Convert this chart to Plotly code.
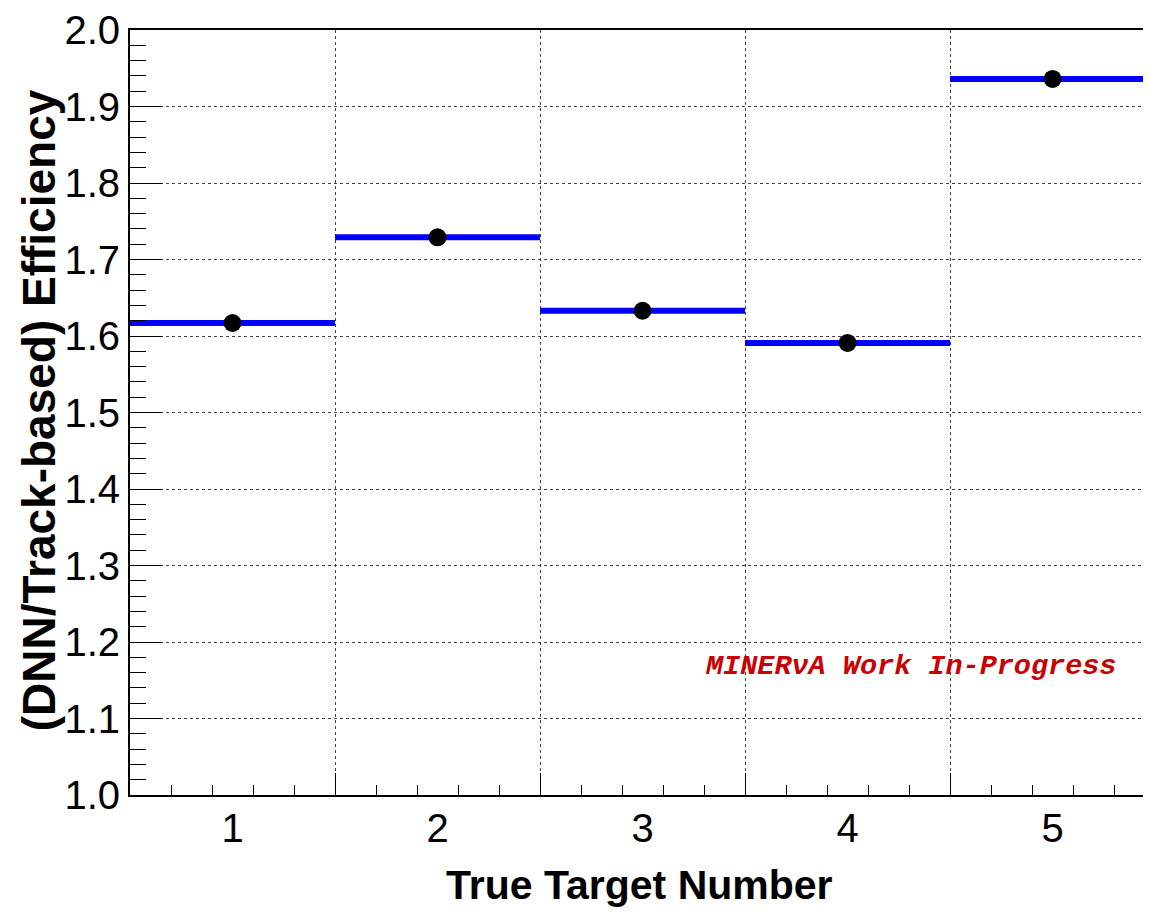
import plotly.graph_objects as go

# Data
targets = [1, 2, 3, 4, 5]
ratio = [1.617, 1.729, 1.633, 1.591, 1.936]
bin_half_width = 0.5
x_title = "True Target Number"
y_title = "(DNN/Track-based) Efficiency"
stamp = "MINERνA Work In-Progress"

# Horizontal bin lines built from data
step_x, step_y = [], []
for c, v in zip(targets, ratio):
    step_x += [c - bin_half_width, c + bin_half_width, None]
    step_y += [v, v, None]

fig = go.Figure()
fig.add_trace(go.Scatter(x=step_x, y=step_y, mode="lines",
                         line=dict(color="rgb(0,0,255)", width=6),
                         hoverinfo="skip", showlegend=False))
fig.add_trace(go.Scatter(x=targets, y=ratio, mode="markers", xaxis="x2",
                         marker=dict(color="black", size=18),
                         showlegend=False))

xr = [0.5, 5.48]
edges = [1.5, 2.5, 3.5, 4.5]
fig.update_layout(
    width=1143, height=909, autosize=False,
    margin=dict(l=122, r=0, t=19, b=122),
    plot_bgcolor="white", paper_bgcolor="white",
    font=dict(family="Liberation Sans, Arial, sans-serif", color="black"),
    xaxis=dict(range=xr, tickvals=edges, ticktext=[""] * len(edges),
               ticks="inside", ticklen=22, tickcolor="black", tickwidth=1,
               showgrid=True, gridcolor="#444", griddash="dot", gridwidth=1,
               showline=True, linecolor="black", linewidth=2, mirror=True,
               zeroline=False,
               minor=dict(ticks="inside", ticklen=10, tick0=0.5, dtick=0.2,
                          tickcolor="black", showgrid=False)),
    xaxis2=dict(range=xr, overlaying="x", anchor="y", side="bottom",
                tickvals=targets, ticktext=[str(t) for t in targets],
                ticks="", showline=False, showgrid=False, zeroline=False,
                tickfont=dict(size=40, family="Liberation Sans, Arial"),
                ticklabelstandoff=6, ticklabeloverflow="allow"),
    yaxis=dict(range=[1.0, 2.0], dtick=0.1, tick0=1.0, tickformat=".1f",
               ticks="inside", ticklen=32, tickcolor="black", tickwidth=1,
               showgrid=True, gridcolor="#444", griddash="dot", gridwidth=1,
               showline=True, linecolor="black", linewidth=2, mirror=False,
               zeroline=False, ticklabeloverflow="allow",
               tickfont=dict(size=40, family="Liberation Sans, Arial"),
               minor=dict(ticks="inside", ticklen=16, tick0=1.0, dtick=0.02,
                          tickcolor="black", showgrid=False)),
    annotations=[
        dict(text=x_title, xref="paper", yref="paper", x=0.4995, y=-0.117,
             xanchor="center", yanchor="middle", showarrow=False,
             font=dict(size=41, family="Liberation Sans, Arial", weight="bold")),
        dict(text=y_title, xref="paper", yref="paper", x=-0.089, y=0.503,
             xanchor="center", yanchor="middle", textangle=-90, showarrow=False,
             font=dict(size=46, family="Liberation Sans, Arial", weight="bold")),
        dict(text=stamp, xref="paper", yref="paper", x=0.561, y=0.168,
             xanchor="left", yanchor="middle", showarrow=False,
             font=dict(size=28.5, family="Liberation Mono, Courier New, monospace",
                       color="rgb(204,0,0)", weight="bold", style="italic")),
    ],
)

fig.write_html("out.html")
